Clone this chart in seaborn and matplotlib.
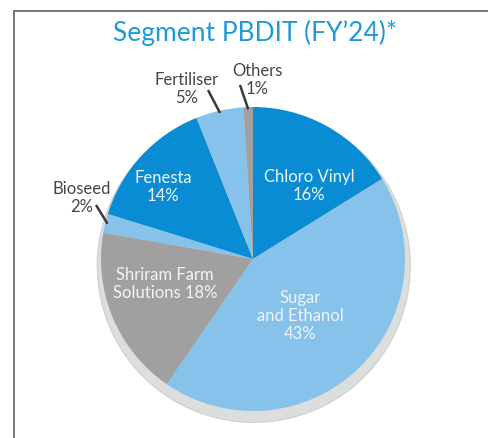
import seaborn as sns
import matplotlib.pyplot as plt
from matplotlib.patches import Circle
from matplotlib.lines import Line2D
import numpy as np

# segment PBDIT share FY'24, clockwise from 12 o'clock
segments = ["Chloro Vinyl", "Sugar and Ethanol", "Shriram Farm Solutions",
            "Bioseed", "Fenesta", "Fertiliser", "Others"]
shares = [16, 43, 18, 2, 14, 5, 1]
label_texts = ["Chloro Vinyl\n16%", "Sugar\nand Ethanol\n43%",
               "Shriram Farm\nSolutions 18%", "Bioseed\n2%",
               "Fenesta\n14%", "Fertiliser\n5%", "Others\n1%"]

DARK = "#0a8cd4"
LIGHT = "#87c2ea"
GREY = "#a0a0a0"
colors = [DARK, LIGHT, GREY, LIGHT, DARK, LIGHT, GREY]

sns.set_theme(style="white")
plt.rcParams["font.family"] = ["Lato", "DejaVu Sans"]

fig = plt.figure(figsize=(4.88, 4.39), dpi=100)
ax = fig.add_axes([0, 0, 1, 1])

# pixel -> data helper (pie centre at px (253, 260), radius 152 px)
def px(x, y):
    return (x - 253) / 152, (260 - y) / 152

# soft drop shadow under the pie
ax.add_patch(Circle((0.005, -0.045), 1.03, facecolor="#dcdddd",
                    edgecolor="#cfd0d0", lw=0.8, zorder=0))

wedges, _ = ax.pie(shares, colors=colors, startangle=90, counterclock=False,
                   radius=1.0, wedgeprops=dict(linewidth=0))

# labels inside the big slices
inside = {0: (309, 186), 1: (300, 316), 2: (165, 284), 4: (163, 187)}
for i, (x, y) in inside.items():
    ax.text(*px(x, y), label_texts[i], ha="center", va="center",
            fontsize=12, color="#eef5fb", linespacing=1.15)

# small slices labelled outside with a leader line
outside = {3: ((82, 198), (96, 206)),
           5: ((187, 89), (208, 91)),
           6: ((257, 80), (240, 86))}
for i, ((tx, ty), (lx, ly)) in outside.items():
    ax.text(*px(tx, ty), label_texts[i], ha="center", va="center",
            fontsize=12, color="#454545", linespacing=1.15)
    w = wedges[i]
    mid = np.deg2rad((w.theta1 + w.theta2) / 2)
    ex, ey = 0.985 * np.cos(mid), 0.985 * np.sin(mid)
    sx, sy = px(lx, ly)
    ax.plot([sx, ex], [sy, ey], color="#3a3a3a", lw=1.8,
            solid_capstyle="butt", zorder=5)

ax.text(*px(255, 33), "Segment PBDIT (FY\u201924)*", ha="center", va="center",
        fontsize=19, color="#1f9ad7")

ax.set_xlim(-253 / 152, 235 / 152)
ax.set_ylim(-179 / 152, 260 / 152)
ax.set_aspect("auto")
ax.axis("off")

# panel frame: left and top edges
fx = 14 / 488
fy = 1 - 12 / 439
fig.add_artist(Line2D([fx, fx], [0, fy], transform=fig.transFigure,
                      color="#6a6a6a", lw=1.3))
fig.add_artist(Line2D([fx, 1], [fy, fy], transform=fig.transFigure,
                      color="#6a6a6a", lw=1.3))

fig.savefig("out.png", dpi=100, facecolor="white")
